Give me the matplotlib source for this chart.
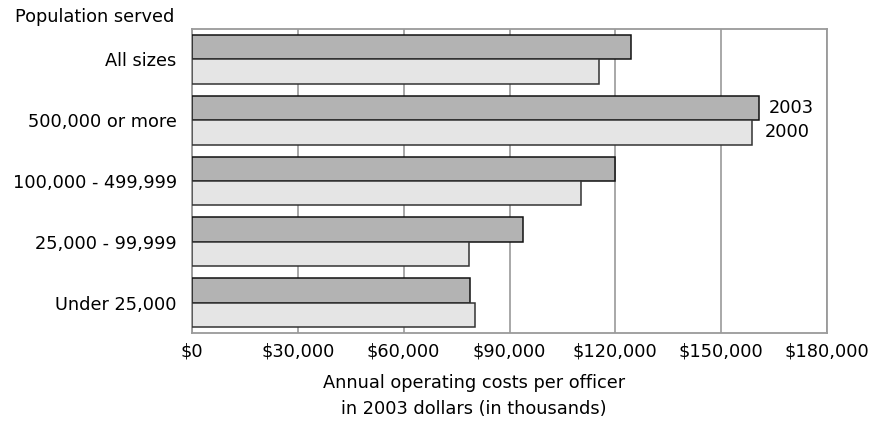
import matplotlib.pyplot as plt
import numpy as np

categories = ['All sizes', '500,000 or more', '100,000 - 499,999',
              '25,000 - 99,999', 'Under 25,000']
costs_2003 = [124400, 160800, 119800, 93900, 78700]
costs_2000 = [115400, 158700, 110400, 78500, 80200]
xticks = [0, 30000, 60000, 90000, 120000, 150000, 180000]
xtick_labels = ['$0', '$30,000', '$60,000', '$90,000', '$120,000',
                '$150,000', '$180,000']

FS = 12.8
grey = '#9a9a9a'

fig = plt.figure(figsize=(8.81, 4.36), dpi=100)
ax = fig.add_axes([192 / 881, 1 - 333 / 436, 635 / 881, 304 / 436])

y = np.arange(len(categories))
h = 0.4
ax.barh(y - h / 2, costs_2003, height=h, color='#b3b3b3',
        edgecolor='#111111', linewidth=1.1, zorder=3)
ax.barh(y + h / 2, costs_2000, height=h, color='#e5e5e5',
        edgecolor='#333333', linewidth=1.1, zorder=3)

ax.set_xlim(0, 180000)
ax.set_ylim(len(categories) - 0.5, -0.5)
ax.set_xticks(xticks)
ax.set_xticklabels(xtick_labels, fontsize=FS)
ax.set_yticks(y)
ax.set_yticklabels(categories, fontsize=FS)
ax.tick_params(axis='both', length=0)
ax.tick_params(axis='y', pad=11)
ax.tick_params(axis='x', pad=7)
ax.xaxis.grid(True, color=grey, linewidth=1.2, zorder=0)
ax.set_axisbelow(True)
for s in ax.spines.values():
    s.set_color(grey)
    s.set_linewidth(1.3)

# series labels next to the 500,000+ bars
ax.annotate('2003', (costs_2003[1], 1 - h / 2), xytext=(7, 0),
            textcoords='offset points', va='center', ha='left', fontsize=FS)
ax.annotate('2000', (costs_2000[1], 1 + h / 2), xytext=(9, 0),
            textcoords='offset points', va='center', ha='left', fontsize=FS)

fig.text(15 / 881, 1 - 17 / 436, 'Population served', fontsize=FS,
         ha='left', va='center')
fig.text(474 / 881, 1 - 383 / 436, 'Annual operating costs per officer',
         fontsize=FS, ha='center', va='center')
fig.text(474 / 881, 1 - 409 / 436, 'in 2003 dollars (in thousands)',
         fontsize=FS, ha='center', va='center')

plt.savefig('out.png', dpi=100)
plt.close()
